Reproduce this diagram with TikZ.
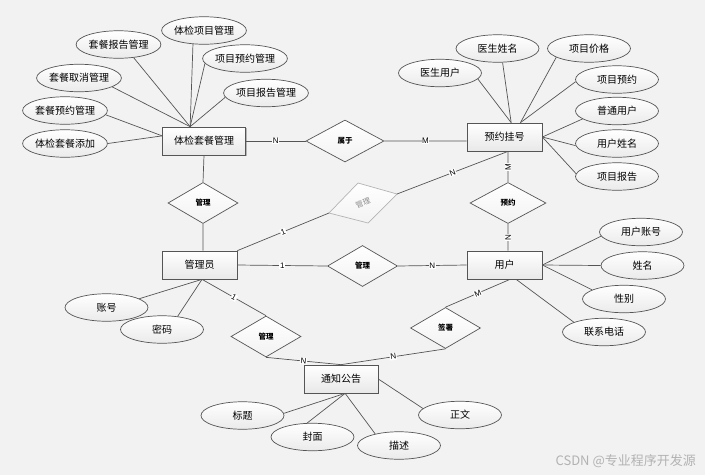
\documentclass[tikz,border=0pt]{standalone}
\usepackage{fontspec}
\setmainfont{Liberation Sans}
\newfontfamily\cjk{Noto Sans CJK SC}
\usetikzlibrary{shapes.geometric,shadows}
\definecolor{bg}{HTML}{F2F2F2}
\definecolor{ln}{HTML}{555555}
\definecolor{gry}{HTML}{B4B4B4}
\begin{document}
\begin{tikzpicture}[x=1pt,y=-1pt,
  conn/.style={draw=ln, line width=0.7pt},
  entity/.style={rectangle, draw=ln, line width=0.7pt, top color=white, bottom color=black!9,
    minimum height=28pt, inner sep=0pt, font=\cjk\fontsize{10}{12}\selectfont,
    drop shadow={shadow xshift=1.2pt, shadow yshift=-1.2pt, opacity=0.25, fill=black}},
  attr/.style={ellipse, draw=ln, line width=0.7pt, top color=white, bottom color=black!8,
    minimum width=83pt, minimum height=27.5pt, inner sep=0pt, font=\cjk\fontsize{10}{12}\selectfont},
  rel/.style={diamond, draw=ln, line width=0.7pt, top color=white, bottom color=black!5,
    minimum width=70pt, minimum height=41pt, inner sep=0pt, font=\cjk\bfseries\fontsize{7.5}{9}\selectfont},
  lab/.style={fill=white, inner sep=0.6pt, font=\fontsize{8}{9}\selectfont, text=black}]
\fill[bg] (0,0) rectangle (705,475);
\useasboundingbox (0,0) rectangle (705,475);

% entities
\node[entity, minimum width=83pt] (tk) at (204,141) {体检套餐管理};
\node[entity, minimum width=75pt] (yy) at (504.5,137) {预约挂号};
\node[entity, minimum width=75pt] (gly) at (199.5,265) {管理员};
\node[entity, minimum width=75pt] (yh) at (504.5,265) {用户};
\node[entity, minimum width=74pt] (tz) at (341,379) {通知公告};

% attributes
\node[attr] (a1) at (118.5,44.5) {套餐报告管理};
\node[attr] (a2) at (204,30.5) {体检项目管理};
\node[attr] (a3) at (245,58.5) {项目预约管理};
\node[attr] (a4) at (79,78) {套餐取消管理};
\node[attr] (a5) at (266,93) {项目报告管理};
\node[attr] (a6) at (65,110.5) {套餐预约管理};
\node[attr] (a7) at (65,143.5) {体检套餐添加};

\node[attr] (b1) at (440,73) {医生用户};
\node[attr] (b2) at (497.5,48.5) {医生姓名};
\node[attr] (b3) at (589,48.5) {项目价格};
\node[attr] (b4) at (617,79.5) {项目预约};
\node[attr] (b5) at (617,111) {普通用户};
\node[attr] (b6) at (617,143.5) {用户姓名};
\node[attr] (b7) at (617,176.5) {项目报告};

\node[attr] (c1) at (641,232) {用户账号};
\node[attr] (c2) at (642.5,265.5) {姓名};
\node[attr] (c3) at (624,299) {性别};
\node[attr] (c4) at (604,332) {联系电话};

\node[attr] (e1) at (106.5,307.5) {账号};
\node[attr] (e2) at (162,329.5) {密码};

\node[attr] (f1) at (242.5,415.5) {标题};
\node[attr] (f2) at (312.5,437) {封面};
\node[attr] (f3) at (399,445.5) {描述};
\node[attr] (f4) at (460,415) {正文};

% relationships
\node[rel, minimum width=78pt, minimum height=42pt] (d0) at (345,141) {属于};
\node[rel] (d1) at (203,203) {管理};
\node[rel, minimum width=76pt] (d2) at (508,203) {预约};
\node[rel] (d3) at (362.5,266) {管理};
\node[rel] (d4) at (266,336.5) {管理};
\node[rel] (d5) at (445.5,328) {签署};

% grey skewed relationship
\coordinate (gL) at (329,213);
\coordinate (gT) at (358,183);
\coordinate (gR) at (397,194);
\coordinate (gB) at (368,223);
\draw[draw=gry, line width=0.7pt, top color=white, bottom color=black!5] (gL) -- (gT) -- (gR) -- (gB) -- cycle;
\node[font=\cjk\fontsize{7.5}{9}\selectfont, text=black!45, rotate=22] (g) at (363,203) {管理};

% attribute connectors
\draw[conn] (a1.319) -- (tk.134);
\draw[conn] (a2.231) -- (tk.134);
\draw[conn] (a3.187) -- (tk.134);
\draw[conn] (a4.345) -- (tk.134);
\draw[conn] (a5.186) -- (tk.134);
\draw[conn] (a6.354) -- (tk.173);
\draw[conn] (a7.east) -- (tk.173);

\draw[conn] (b1.351) -- (yy.65);
\draw[conn] (b2.290) -- (yy.65);
\draw[conn] (b3.195) -- (yy.42);
\draw[conn] (b4.183) -- (yy.42);
\draw[conn] (b5.193) -- (yy.east);
\draw[conn] (b6.183) -- (yy.east);
\draw[conn] (b7.176) -- (yy.east);

\draw[conn] (c1.186) -- (yh.east);
\draw[conn] (c2.west) -- (yh.east);
\draw[conn] (c3.164) -- (yh.east);
\draw[conn] (c4.162) -- (yh.309);

\draw[conn] (e1.15) -- (gly.280);
\draw[conn] (e2.40) -- (gly.280);

\draw[conn] (f1.3) -- (tz.286);
\draw[conn] (f2.111) -- (tz.286);
\draw[conn] (f3.154) -- (tz.286);
\draw[conn] (f4.170) -- (tz.east);

% relationship connectors
\draw[conn] (tk.east) -- node[lab]{N} (d0.west);
\draw[conn] (d0.east) -- node[lab]{M} (yy.186);
\draw[conn] (tk.south) -- (d1.north);
\draw[conn] (d1.south) -- (gly.76);
\draw[conn] (gly.north east) -- node[lab, sloped]{1} (gL);
\draw[conn] (gR) -- node[lab, sloped]{N} (yy.284);
\draw[conn] (yy.284) -- node[lab, rotate=90]{M} (d2.north);
\draw[conn] (d2.south) -- node[lab, rotate=90]{N} (yh.76);
\draw[conn] (gly.east) -- node[lab]{1} (d3.west);
\draw[conn] (d3.east) -- node[lab]{N} (yh.west);
\draw[conn] (gly.280) -- node[lab, sloped]{1} (d4.north);
\draw[conn] (d4.south) -- node[lab, sloped]{N} (tz.north);
\draw[conn] (d5.south) -- node[lab, sloped]{N} (tz.north);
\draw[conn] (d5.north) -- node[lab, sloped]{M} (yh.291);

% watermark
\node[anchor=east, font=\cjk\fontsize{13}{15}\selectfont, text=black!30, inner sep=0pt] (wm) at (696,461) {CSDN @专业程序开发源};
\end{tikzpicture}
\end{document}
